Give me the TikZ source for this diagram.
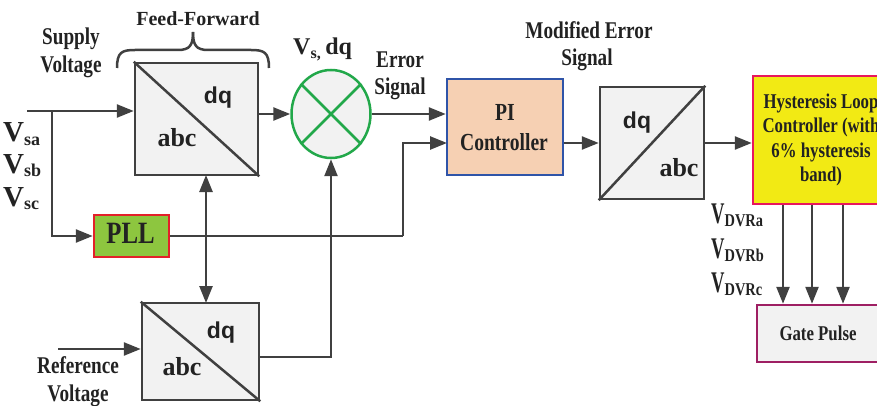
\documentclass[tikz,border=0pt]{standalone}
\usepackage{fontspec}
\setmainfont{Liberation Serif}
\newfontfamily\dqfont{Liberation Sans}
\newfontfamily\cnd[FakeStretch=0.8]{Liberation Serif}
\newfontfamily\cndV[FakeStretch=0.62]{Liberation Serif}
\usetikzlibrary{arrows.meta,shapes.geometric}
\definecolor{ln}{HTML}{404040}
\definecolor{txt}{HTML}{222222}
\definecolor{boxg}{HTML}{F2F2F2}
\definecolor{sumg}{HTML}{22A84A}
\definecolor{pifill}{HTML}{F6D0B3}
\definecolor{piedge}{HTML}{2F54A8}
\definecolor{pllfill}{HTML}{8DC63F}
\definecolor{plledge}{HTML}{E3202A}
\definecolor{hyfill}{HTML}{F2EA14}
\definecolor{hyedge}{HTML}{E8175D}
\definecolor{gpedge}{HTML}{9E1F63}
\tikzset{
  blk/.style={draw=ln, line width=2.5pt, fill=boxg, inner sep=0pt},
  tx/.style={text=txt, inner sep=0pt, anchor=base},
  lbl/.style={tx, font=\cnd\bfseries\fontsize{24}{28}\selectfont},
  dqt/.style={tx, font=\dqfont\bfseries\fontsize{23}{24}\selectfont},
  abct/.style={tx, font=\bfseries\fontsize{26}{28}\selectfont},
  vlab/.style={tx, anchor=base west, font=\bfseries\fontsize{29}{30}\selectfont},
  vdvr/.style={tx, anchor=base west, font=\cndV\bfseries\fontsize{30}{30}\selectfont},
  wire/.style={draw=ln, line width=2.5pt},
  arr/.style={wire, -{Triangle[length=17pt,width=13pt]}},
  darr/.style={wire, {Triangle[length=17pt,width=13pt]}-{Triangle[length=17pt,width=13pt]}},
}
\newcommand\sbs[1]{\textsubscript{\bfseries\fontsize{18}{18}\selectfont #1}}
\newcommand\sbd[1]{\textsubscript{\cnd\bfseries\fontsize{18}{18}\selectfont #1}}
\begin{document}
\begin{tikzpicture}[x=1pt,y=-1pt]
\useasboundingbox (0,0) rectangle (877,406);
\clip (0,0) rectangle (877,406);

% blocks
\node[blk, minimum width=123pt, minimum height=112pt] (ff) at (196.5,119) {};
\draw[ln, line width=2.5pt] (ff.north west) -- (ff.south east);
\node[dqt] at (218,103.5) {dq};
\node[abct] at (177,147) {abc};

\node[blk, minimum width=117pt, minimum height=97pt] (lb) at (200.5,351.5) {};
\draw[ln, line width=2.5pt] (lb.north west) -- (lb.south east);
\node[dqt] at (221,338) {dq};
\node[abct] at (182,375) {abc};

\node[blk, minimum width=104pt, minimum height=112pt] (b2) at (652,143) {};
\draw[ln, line width=2.5pt] (b2.south west) -- (b2.north east);
\node[dqt] at (637,129) {dq};
\node[abct] at (679,177) {abc};

\node[ellipse, draw=sumg, line width=2.5pt, fill=boxg, minimum width=79pt, minimum height=88pt, inner sep=0pt] (sum) at (331,114) {};
\draw[sumg, line width=2.5pt] (sum.45) -- (sum.225) (sum.135) -- (sum.315);

\node[draw=piedge, fill=pifill, line width=2.5pt, minimum width=116pt, minimum height=96pt, inner sep=0pt] (pi) at (505,127) {};
\node[lbl, font=\cnd\bfseries\fontsize{24.5}{28}\selectfont] at (505,121) {PI};
\node[lbl, font=\cnd\bfseries\fontsize{24.5}{28}\selectfont] at (504,150) {Controller};

\node[draw=plledge, fill=pllfill, line width=2.5pt, minimum width=75pt, minimum height=42pt, inner sep=0pt] (pll) at (131.5,236) {};
\node[tx, font=\cnd\bfseries\fontsize{31}{32}\selectfont] at (130.5,243) {PLL};

\node[draw=hyedge, fill=hyfill, line width=2.5pt, minimum width=136pt, minimum height=128pt, inner sep=0pt] (hy) at (821,140) {};
\begin{scope}[every node/.style={lbl, font=\cnd\bfseries\fontsize{21}{24}\selectfont}]
\node at (821,109) {Hysteresis Loop};
\node at (821,133) {Controller (with};
\node at (821,158) {6\% hysteresis};
\node at (821,182) {band)};
\end{scope}

\node[draw=gpedge, fill=boxg, line width=2.5pt, minimum width=122pt, minimum height=57pt, inner sep=0pt] (gp) at (818,333.5) {};
\node[lbl, font=\cnd\bfseries\fontsize{21}{24}\selectfont] at (818,340) {Gate Pulse};

% labels
\node[tx, font=\bfseries\fontsize{20}{24}\selectfont] at (198,26) {Feed-Forward};
\node[lbl] at (71,45) {Supply};
\node[lbl] at (71,73) {Voltage};
\node[lbl] at (78,373) {Reference};
\node[lbl] at (78,401) {Voltage};
\node[lbl] at (400,68) {Error};
\node[lbl] at (400,95) {Signal};
\node[lbl] at (589,39) {Modified Error};
\node[lbl] at (587,66) {Signal};
\node[tx, anchor=base west, font=\bfseries\fontsize{24}{26}\selectfont] at (293,55) {V\textsubscript{\bfseries\fontsize{16}{16}\selectfont s,}\,dq};
\node[vlab] at (3,142) {V\sbs{sa}};
\node[vlab] at (3,173) {V\sbs{sb}};
\node[vlab] at (3,206) {V\sbs{sc}};
\node[vdvr] at (711,223) {V\sbd{DVRa}};
\node[vdvr] at (711,258) {V\sbd{DVRb}};
\node[vdvr] at (711,292) {V\sbd{DVRc}};

% brace
\draw[ln, line width=2.5pt] (117,68) .. controls (117,52) and (122,50) .. (135,50) -- (178,50) .. controls (190,50) and (193,45) .. (193,32);
\draw[ln, line width=2.5pt] (269,68) .. controls (269,52) and (264,50) .. (251,50) -- (208,50) .. controls (196,50) and (193,45) .. (193,32);

% junction coordinates
\coordinate (in) at (27,111);
\coordinate (tap) at (52,111);
\coordinate (refin) at (58,349);
\coordinate (lbout) at (259,357);
\coordinate (pilow) at (447,143);
\coordinate (ffb) at (206,175);
\coordinate (lbt) at (206,303);
\coordinate (pllc) at (pll.east -| 403,0);

% connectors
\draw[arr] (in) -- (in -| ff.west);
\draw[arr] (tap) |- (pll.west);
\draw[arr] (ff.east |- sum.west) -- (sum.west);
\draw[arr] (sum.east) -- (sum.east -| pi.west);
\draw[wire] (pll.east) -- (pllc);
\draw[arr] (pllc) |- (pilow);
\draw[darr] (ffb) -- (lbt);
\draw[arr] (refin) -- (refin -| lb.west);
\draw[arr] (lbout) -| (sum.south);
\draw[arr] (pi.east |- b2.west) -- (b2.west);
\draw[arr] (b2.east) -- (b2.east -| hy.west);
\foreach \xx in {783,812,843} {
  \draw[arr] (hy.south -| \xx,0) -- (gp.north -| \xx,0);
}
\end{tikzpicture}
\end{document}
